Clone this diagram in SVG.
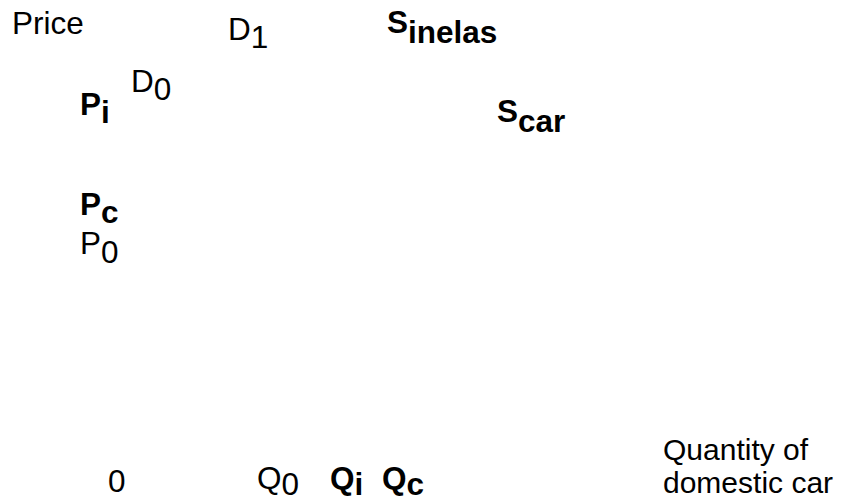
<svg xmlns="http://www.w3.org/2000/svg" width="846" height="502" viewBox="0 0 846 502">
<style>
text{font-family:"Liberation Sans",Arial,sans-serif;font-size:31.5px;fill:#000}
.b{font-weight:bold}
.q{font-size:30px}
</style>
<rect width="846" height="502" fill="#fff"/>
<g id="axis-labels">
<text x="12" y="34">Price</text>
<text class="q" x="663" y="460">Quantity of</text>
<text class="q" x="663" y="493">domestic car</text>
<text x="108" y="492">0</text>
</g>
<g id="curve-labels">
<text x="228" y="40">D<tspan dy="8">1</tspan></text>
<text x="131" y="92">D<tspan dy="8">0</tspan></text>
<text class="b" x="387" y="33">S<tspan dy="10">inelas</tspan></text>
<text class="b" x="497" y="122">S<tspan dy="10">car</tspan></text>
</g>
<g id="price-labels">
<text class="b" x="80" y="115">P<tspan dy="8">i</tspan></text>
<text class="b" x="80" y="215">P<tspan dy="8">c</tspan></text>
<text x="80" y="254">P<tspan dy="9">0</tspan></text>
</g>
<g id="quantity-labels">
<text x="257" y="489">Q<tspan dy="6">0</tspan></text>
<text class="b" x="330" y="489">Q<tspan dy="6">i</tspan></text>
<text class="b" x="382" y="489">Q<tspan dy="6">c</tspan></text>
</g>
</svg>
